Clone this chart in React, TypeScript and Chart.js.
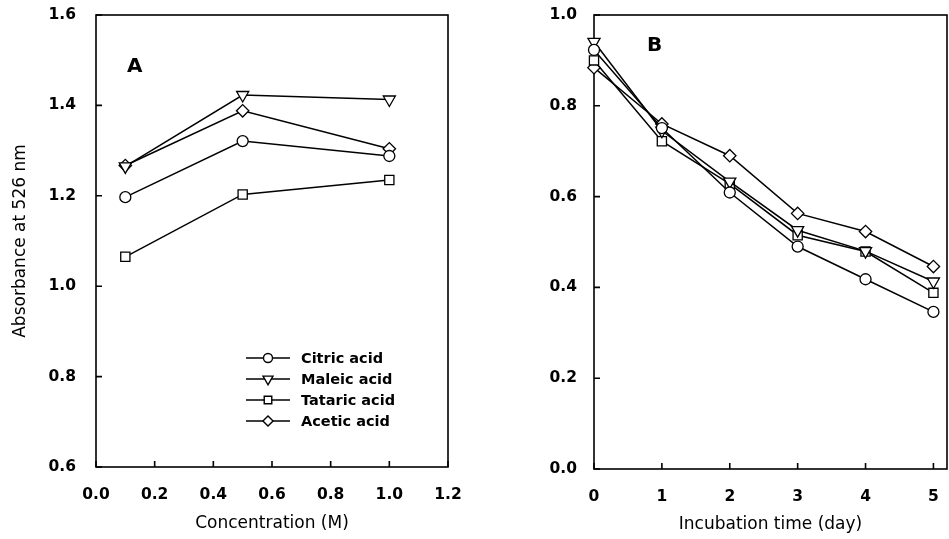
import React, { useEffect, useRef } from 'react';
import { Chart, registerables } from 'chart.js';

Chart.register(...registerables);

// ---- Panel A data ----
const concentration = [0.1, 0.5, 1.0];
const citricA = [1.197, 1.321, 1.288];
const maleicA = [1.265, 1.423, 1.413];
const tataricA = [1.065, 1.203, 1.235];
const aceticA = [1.267, 1.388, 1.304];

// ---- Panel B data ----
const days = [0, 1, 2, 3, 4, 5];
const citricB = [0.923, 0.751, 0.609, 0.49, 0.418, 0.346];
const maleicB = [0.941, 0.745, 0.633, 0.526, 0.48, 0.413];
const tataricB = [0.9, 0.722, 0.628, 0.515, 0.479, 0.388];
const aceticB = [0.884, 0.76, 0.69, 0.563, 0.523, 0.446];

const seriesNames = ['Citric acid', 'Maleic acid', 'Tataric acid', 'Acetic acid'];

// ---- ticks ----
const xTicksA = [0, 0.2, 0.4, 0.6, 0.8, 1.0, 1.2];
const yTicksA = [0.6, 0.8, 1.0, 1.2, 1.4, 1.6];
const xTicksB = [0, 1, 2, 3, 4, 5];
const yTicksB = [0, 0.2, 0.4, 0.6, 0.8, 1.0];

const FONT = "'DejaVu Sans', 'Liberation Sans', sans-serif";

const markerStyles: any[] = ['circle', 'triangle', 'rect', 'rectRot'];
const markerRot = [0, 180, 0, 0];
const markerRadius = [5.5, 7, 6.5, 6.2];

function drawMarker(ctx: CanvasRenderingContext2D, style: string, x: number, y: number, r: number, rotDeg: number) {
  let rad = (rotDeg * Math.PI) / 180;
  ctx.beginPath();
  if (style === 'circle') {
    ctx.arc(x, y, r, 0, Math.PI * 2);
  } else if (style === 'triangle') {
    ctx.moveTo(x + Math.sin(rad) * r, y - Math.cos(rad) * r);
    rad += (2 * Math.PI) / 3;
    ctx.lineTo(x + Math.sin(rad) * r, y - Math.cos(rad) * r);
    rad += (2 * Math.PI) / 3;
    ctx.lineTo(x + Math.sin(rad) * r, y - Math.cos(rad) * r);
    ctx.closePath();
  } else if (style === 'rect') {
    const s = r * Math.SQRT1_2;
    ctx.rect(x - s, y - s, 2 * s, 2 * s);
  } else {
    ctx.moveTo(x, y - r);
    ctx.lineTo(x + r, y);
    ctx.lineTo(x, y + r);
    ctx.lineTo(x - r, y);
    ctx.closePath();
  }
  ctx.fillStyle = '#fff';
  ctx.fill();
  ctx.stroke();
}

const frameTicks = {
  id: 'frameTicks',
  beforeDatasetsDraw(chart: any) {
    const { ctx, chartArea: a, scales } = chart;
    ctx.save();
    ctx.strokeStyle = '#000';
    ctx.lineWidth = 1.6;
    ctx.strokeRect(a.left, a.top, a.right - a.left, a.bottom - a.top);
    const tl = 6;
    ctx.beginPath();
    scales.x.ticks.forEach((t: any) => {
      const px = scales.x.getPixelForValue(t.value);
      ctx.moveTo(px, a.bottom);
      ctx.lineTo(px, a.bottom - tl);
    });
    scales.y.ticks.forEach((t: any) => {
      const py = scales.y.getPixelForValue(t.value);
      ctx.moveTo(a.left, py);
      ctx.lineTo(a.left + tl, py);
    });
    ctx.stroke();
    ctx.restore();
  },
};

const panelLabel = {
  id: 'panelLabel',
  afterDraw(chart: any, _args: any, opts: any) {
    const { ctx, chartArea: a } = chart;
    ctx.save();
    ctx.fillStyle = '#000';
    ctx.font = `bold 20px ${FONT}`;
    ctx.textBaseline = 'alphabetic';
    ctx.textAlign = 'left';
    ctx.fillText(opts.text, a.left + opts.dx, a.top + opts.dy);
    ctx.restore();
  },
};

const lineLegend = {
  id: 'lineLegend',
  afterDraw(chart: any, _args: any, opts: any) {
    if (!opts || !opts.show) return;
    const { ctx, chartArea: a } = chart;
    ctx.save();
    ctx.strokeStyle = '#000';
    ctx.lineWidth = 1.4;
    ctx.font = `bold 14.5px ${FONT}`;
    ctx.textBaseline = 'middle';
    ctx.textAlign = 'left';
    chart.data.datasets.forEach((ds: any, i: number) => {
      const x0 = a.left + 150;
      const y = a.top + 343 + i * 21;
      ctx.beginPath();
      ctx.moveTo(x0, y);
      ctx.lineTo(x0 + 44, y);
      ctx.stroke();
      drawMarker(ctx, markerStyles[i], x0 + 22, y, markerRadius[i] * 0.82, markerRot[i]);
      ctx.fillStyle = '#000';
      ctx.fillText(ds.label, x0 + 55, y + 1);
    });
    ctx.restore();
  },
};

function makeDatasets(xs: number[], series: number[][]) {
  return series.map((vals, i) => ({
    label: seriesNames[i],
    data: xs.map((x, j) => ({ x, y: vals[j] })),
    borderColor: '#000',
    borderWidth: 1.5,
    pointStyle: markerStyles[i],
    pointRotation: markerRot[i],
    pointRadius: markerRadius[i],
    pointBorderWidth: 1.3,
    pointBackgroundColor: '#fff',
    pointBorderColor: '#000',
    clip: false as any,
    tension: 0,
  }));
}

function makeConfig(p: {
  datasets: any[];
  xMin: number; xMax: number; xTicks: number[]; xDec: number;
  yMin: number; yMax: number; yTicks: number[];
  yWidth: number; xHeight: number;
  padding: any; xTitle: string; xTitlePad: number; yTitle?: string;
  yTickPad: number; xTickPad: number;
  label: string; labelDx: number; labelDy: number; legend: boolean;
}): any {
  return {
    type: 'line',
    data: { datasets: p.datasets },
    options: {
      animation: false,
      responsive: false,
      devicePixelRatio: 1,
      layout: { padding: p.padding },
      plugins: {
        legend: { display: false },
        tooltip: { enabled: false },
        panelLabel: { text: p.label, dx: p.labelDx, dy: p.labelDy },
        lineLegend: { show: p.legend },
      },
      scales: {
        x: {
          type: 'linear',
          min: p.xMin,
          max: p.xMax,
          grid: { display: false },
          border: { display: false },
          afterBuildTicks: (s: any) => { s.ticks = p.xTicks.map((v) => ({ value: v })); },
          afterFit: (s: any) => {
            s.height = p.xHeight;
            s.paddingLeft = 0;
            s.paddingRight = 0;
          },
          ticks: {
            color: '#000',
            padding: p.xTickPad,
            maxRotation: 0,
            autoSkip: false,
            font: { family: FONT, size: 15.5, weight: 'bold' },
            callback: (v: any) => Number(v).toFixed(p.xDec),
          },
          title: {
            display: true,
            text: p.xTitle,
            color: '#000',
            font: { family: FONT, size: 17 },
            padding: { top: 0, bottom: p.xTitlePad },
          },
        },
        y: {
          type: 'linear',
          min: p.yMin,
          max: p.yMax,
          grid: { display: false },
          border: { display: false },
          afterBuildTicks: (s: any) => { s.ticks = p.yTicks.map((v) => ({ value: v })); },
          afterFit: (s: any) => {
            s.width = p.yWidth;
            s.paddingTop = 0;
            s.paddingBottom = 0;
          },
          ticks: {
            color: '#000',
            padding: p.yTickPad,
            autoSkip: false,
            font: { family: FONT, size: 15.5, weight: 'bold' },
            callback: (v: any) => Number(v).toFixed(1),
          },
          title: {
            display: !!p.yTitle,
            text: p.yTitle || '',
            color: '#000',
            font: { family: FONT, size: 17 },
            padding: { top: 10, bottom: 0 },
          },
        },
      },
    },
    plugins: [frameTicks, panelLabel, lineLegend],
  };
}

export default function App() {
  const refA = useRef<HTMLCanvasElement>(null);
  const refB = useRef<HTMLCanvasElement>(null);

  useEffect(() => {
    const chartA = new Chart(
      refA.current as HTMLCanvasElement,
      makeConfig({
        datasets: makeDatasets(concentration, [citricA, maleicA, tataricA, aceticA]),
        xMin: 0, xMax: 1.2, xTicks: xTicksA, xDec: 1,
        yMin: 0.6, yMax: 1.6, yTicks: yTicksA,
        yWidth: 96, xHeight: 72,
        padding: { left: 0, top: 15, right: 22, bottom: 0 },
        xTitle: 'Concentration (M)', xTitlePad: 5,
        yTitle: 'Absorbance at 526 nm',
        yTickPad: 12, xTickPad: 11,
        label: 'A', labelDx: 31, labelDy: 57, legend: true,
      })
    );
    const chartB = new Chart(
      refB.current as HTMLCanvasElement,
      makeConfig({
        datasets: makeDatasets(days, [citricB, maleicB, tataricB, aceticB]),
        xMin: 0, xMax: 5.2, xTicks: xTicksB, xDec: 0,
        yMin: 0, yMax: 1.0, yTicks: yTicksB,
        yWidth: 124, xHeight: 70,
        padding: { left: 0, top: 15, right: 13, bottom: 0 },
        xTitle: 'Incubation time (day)', xTitlePad: 4,
        yTickPad: 9, xTickPad: 11,
        label: 'B', labelDx: 53, labelDy: 36, legend: false,
      })
    );
    return () => {
      chartA.destroy();
      chartB.destroy();
    };
  }, []);

  return (
    <div style={{ position: 'absolute', left: 0, top: 0, width: 949, height: 539, background: '#fff', overflow: 'hidden' }}>
      <canvas ref={refA} width={470} height={539} style={{ position: 'absolute', left: 0, top: 0 }} />
      <canvas ref={refB} width={490} height={539} style={{ position: 'absolute', left: 470, top: 0 }} />
    </div>
  );
}
